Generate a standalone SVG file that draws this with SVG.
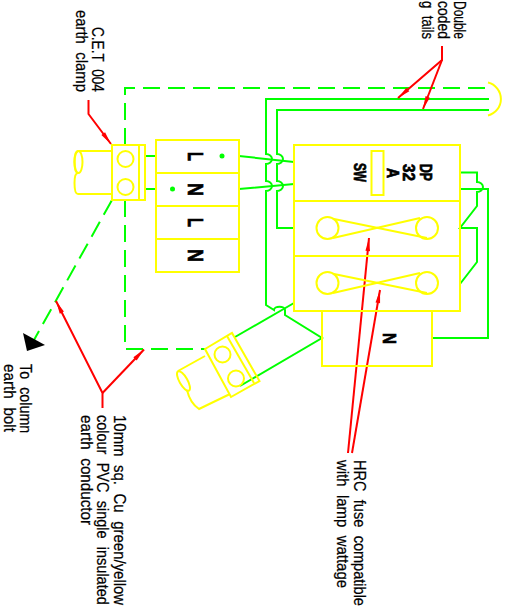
<svg xmlns="http://www.w3.org/2000/svg" width="508" height="608" viewBox="0 0 508 608">
<style>
.y{fill:none;stroke:#ffff00;stroke-width:2}
.g{fill:none;stroke:#00ff00;stroke-width:2}
.d{fill:none;stroke:#00ff00;stroke-width:2;stroke-dasharray:17 8}
.r{fill:none;stroke:#ff0000;stroke-width:2;marker-end:url(#ah)}
.t{font-family:"Liberation Sans",Arial,sans-serif;font-size:17px;fill:#000;stroke:#000;stroke-width:.25;word-spacing:5px}
.b{font-family:"Liberation Sans",Arial,sans-serif;font-weight:bold;fill:#000;stroke:#000;stroke-width:.7}
</style>
<defs>
<marker id="ah" markerUnits="userSpaceOnUse" markerWidth="16" markerHeight="8" refX="15" refY="4" orient="auto"><path d="M2 1.700L15 4L2 6.300z" fill="#ff0000"/></marker>
</defs>
<rect width="508" height="608" fill="#fff"/>
<g id="connectors">
<path class="d" d="M125 145V88H489"/>
<path class="d" d="M125 200V349H205"/>
<path class="d" d="M112 200L34 340"/>
<path class="g" d="M145 156H156M145 189H156"/>
<path class="g" d="M239 156L294 162M239 189L294 184"/>
<path class="g" d="M489 99H266V154A6 5 0 0 1 266 164V181A6 5 0 0 1 266 191V305L274 310A5 3 0 0 1 285 310V315L322 338L240 386"/>
<path class="g" d="M489 110H277V154A6 5 0 0 1 277 164V181A6 5 0 0 1 277 191V228H294"/>
<path class="g" d="M294 303L235 337"/>
<path class="g" d="M460 172.500H477V182A6 5 0 0 1 477 192V206L460 228H477V262L460 284"/>
<path class="g" d="M460 189H488V338H432"/>
<circle cx="222" cy="156" r="2.500" fill="#00ff00"/>
<circle cx="172.500" cy="189" r="2.500" fill="#00ff00"/>
<path class="r" d="M88.500 100V114L111 144"/>
<path class="r" d="M442 46V60L398 98"/>
<path class="r" d="M442 60L423 109"/>
<path class="r" d="M102.500 408V393L56 301"/>
<path class="r" d="M102.500 393L144 349.500"/>
<path class="r" d="M348 453L369 238"/>
<path class="r" d="M352 453L380 290"/>
<path d="M23 333L45 345L27 351z" fill="#000"/>
</g>
<g id="clamp-top">
<path class="y" d="M112 151H78Q74.500 151 74.500 162Q74.500 173 78 173M78 173Q74.500 173 74.500 183Q74.500 194 78 194H112"/>
<ellipse class="y" cx="78.500" cy="162" rx="4" ry="11"/>
<rect class="y" x="112" y="145" width="33" height="55"/>
<path class="y" d="M139 145V200"/>
<circle class="y" cx="125.500" cy="159" r="8"/>
<circle class="y" cx="125.500" cy="187" r="8"/>
</g>
<g id="terminal-block">
<rect class="y" x="156" y="140" width="83" height="132"/>
<path class="y" d="M156 173H239M156 206H239M156 239H239"/>
<text class="b" font-size="22" transform="translate(188,152) rotate(90)" textLength="9" lengthAdjust="spacingAndGlyphs">L</text>
<text class="b" font-size="22" transform="translate(188,183) rotate(90)" textLength="13" lengthAdjust="spacingAndGlyphs">N</text>
<text class="b" font-size="22" transform="translate(188,218) rotate(90)" textLength="9" lengthAdjust="spacingAndGlyphs">L</text>
<text class="b" font-size="22" transform="translate(188,249) rotate(90)" textLength="13" lengthAdjust="spacingAndGlyphs">N</text>
</g>
<g id="switch">
<rect class="y" x="294" y="145" width="166" height="56"/>
<rect class="y" x="371.500" y="151" width="12" height="44"/>
<text class="b" font-size="16.500" transform="translate(420,164) rotate(90)" textLength="17" lengthAdjust="spacingAndGlyphs">DP</text>
<text class="b" font-size="16.500" transform="translate(403,164) rotate(90)" textLength="17" lengthAdjust="spacingAndGlyphs">32</text>
<text class="b" font-size="16.500" transform="translate(387,168) rotate(90)" textLength="10" lengthAdjust="spacingAndGlyphs">A</text>
<text class="b" font-size="16.500" transform="translate(354,163) rotate(90)" textLength="19" lengthAdjust="spacingAndGlyphs">SW</text>
</g>
<g id="fuse-1">
<rect class="y" x="294" y="201" width="166" height="55"/>
<circle class="y" cx="327.500" cy="228" r="11"/>
<circle class="y" cx="427" cy="228" r="11"/>
<path class="y" d="M334 219L427 238M333 238L420 218"/>
</g>
<g id="fuse-2">
<rect class="y" x="294" y="256" width="166" height="55"/>
<circle class="y" cx="327.500" cy="283" r="11"/>
<circle class="y" cx="427" cy="283" r="11"/>
<path class="y" d="M334 274L427 293M333 293L420 273"/>
</g>
<g id="neutral-block">
<rect class="y" x="322" y="311" width="110" height="55"/>
<text class="b" font-size="19" transform="translate(383,333) rotate(90)" textLength="11" lengthAdjust="spacingAndGlyphs">N</text>
</g>
<g id="clamp-bottom">
<path class="y" d="M205 356L178 371M230 394L199 409Q190 403 187 390"/>
<ellipse class="y" cx="183.500" cy="381" rx="4" ry="11" transform="rotate(-30 183.500 381)"/>
<path class="y" d="M205 349L232 333L259.500 381L231 397z"/>
<path class="y" d="M227 336L254 383"/>
<circle class="y" cx="222.500" cy="354.500" r="8"/>
<circle class="y" cx="236" cy="378.500" r="8"/>
</g>
<path id="lamp-arc" class="y" d="M488 82.500A17 17 0 0 1 488 115.500"/>
<g id="labels">
<text class="t" transform="translate(92,27) rotate(90) scale(.8,1)">C.E.T 004</text>
<text class="t" transform="translate(76,10) rotate(90) scale(.874,1)">earth clamp</text>
<text class="t" transform="translate(454,1) rotate(90) scale(.705,1)">Double</text>
<text class="t" transform="translate(438,1) rotate(90) scale(.82,1)">coded</text>
<text class="t" transform="translate(422,1) rotate(90) scale(.77,1)">g tails</text>
<text class="t" transform="translate(20,364) rotate(90) scale(.84,1)">To column</text>
<text class="t" transform="translate(4,364) rotate(90) scale(.896,1)">earth bolt</text>
<text class="t" transform="translate(113.500,415) rotate(90) scale(.88,1)">10mm sq. Cu green/yellow</text>
<text class="t" transform="translate(97,415) rotate(90) scale(.852,1)">colour PVC single insulated</text>
<text class="t" transform="translate(80.500,415) rotate(90) scale(.894,1)">earth conductor</text>
<text class="t" transform="translate(353.500,460) rotate(90) scale(.856,1)">HRC fuse compatible</text>
<text class="t" transform="translate(337,460) rotate(90) scale(.877,1)">with lamp wattage</text>
</g>
</svg>
